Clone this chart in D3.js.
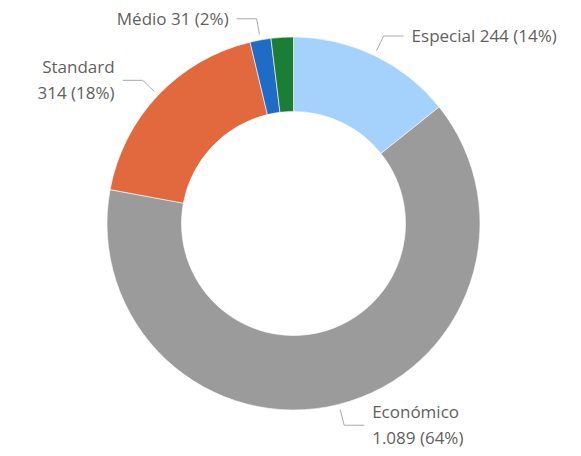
<!DOCTYPE html>
<html>
<head>
<meta charset="utf-8">
<script src="https://cdn.jsdelivr.net/npm/d3@7"></script>
<style>
  body { margin: 0; background: #fff; }
  svg { display: block; }
  text { font-family: "Open Sans", "Segoe UI", sans-serif; font-size: 17px; fill: #625f5e; }
</style>
</head>
<body>
<svg width="581" height="456"></svg>
<script>
var categories = ["Especial", "Económico", "Standard", "Médio", "Outros"];
var values = [244, 1089, 314, 31, 33];
var colors = ["#a5d1fd", "#9b9b9b", "#e1693d", "#1f6cc7", "#1c7e34"];

var svg = d3.select("svg"),
    width = +svg.attr("width"),
    height = +svg.attr("height");

var cx = 293.5, cy = 223.5,
    outerR = 186.5, innerR = 112;

var locale = d3.formatLocale({decimal: ",", thousands: ".", grouping: [3], currency: ["R$", ""]});
var fmt = locale.format(",d");

var data = categories.map(function (c, i) {
    return {name: c, value: values[i], color: colors[i]};
});
var total = d3.sum(values);

var pie = d3.pie()
    .sort(null)
    .value(function (d) { return d.value; });

var arc = d3.arc()
    .innerRadius(innerR)
    .outerRadius(outerR);

var g = svg.append("g").attr("transform", "translate(" + cx + "," + cy + ")");

var arcs = pie(data);

g.selectAll("path.slice")
    .data(arcs)
    .enter().append("path")
    .attr("class", "slice")
    .attr("d", arc)
    .attr("fill", function (d) { return d.data.color; })
    .attr("stroke", "#fff")
    .attr("stroke-width", 0.6);

// leader line points
function polar(a, r) {
    return [r * Math.sin(a), -r * Math.cos(a)];
}

var placed = [];
var labels = g.append("g");

arcs.forEach(function (d) {
    var mid = (d.startAngle + d.endAngle) / 2;
    var p0 = polar(mid, outerR + 5.5),
        p1 = polar(mid, outerR + 21.5);
    var right = p1[0] >= 0;
    var p2 = [p1[0] + (right ? 20 : -20), p1[1]];
    var tx = p2[0] + (right ? 8 : -8);
    var pct = " (" + Math.round(d.data.value / total * 100) + "%)";

    var t = labels.append("text")
        .attr("x", tx)
        .attr("y", p2[1])
        .attr("text-anchor", right ? "start" : "end");

    t.append("tspan").attr("x", tx).attr("dy", "0.35em")
        .text(d.data.name + " " + fmt(d.data.value) + pct);
    var w = t.node().getComputedTextLength();
    var avail = right ? (width - cx - tx) : (cx + tx);
    if (w > Math.min(165, avail)) {
        // wrap to two lines
        t.selectAll("tspan").remove();
        t.append("tspan").attr("x", tx).attr("dy", "-0.45em").text(d.data.name);
        t.append("tspan").attr("x", tx).attr("dy", "26px").text(fmt(d.data.value) + pct);
    }
    // hide labels that collide with ones already placed
    var bb = t.node().getBBox();
    var hit = placed.some(function (b) {
        return !(bb.x > b.x + b.width || bb.x + bb.width < b.x || bb.y > b.y + b.height || bb.y + bb.height < b.y);
    });
    if (hit) { t.remove(); return; }
    placed.push(bb);

    labels.append("polyline")
        .attr("points", [p0, p1, p2].map(function (p) { return p.join(","); }).join(" "))
        .attr("fill", "none")
        .attr("stroke", "#aaa")
        .attr("stroke-width", 1);
});
</script>
</body>
</html>
